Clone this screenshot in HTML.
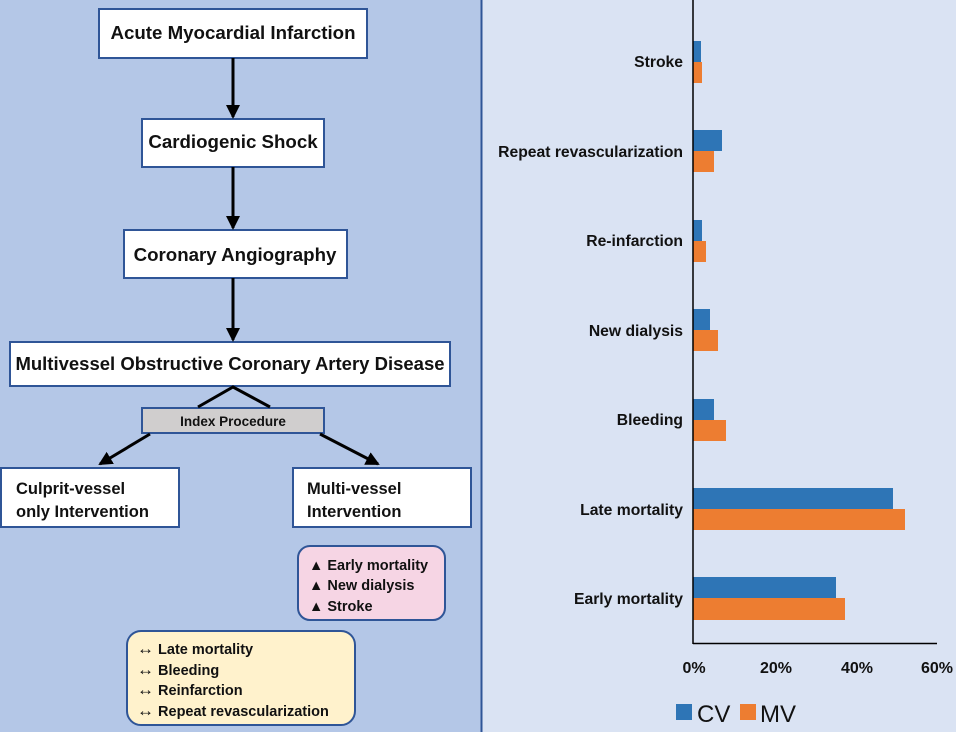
<!DOCTYPE html>
<html><head><meta charset="utf-8"><style>
html,body{margin:0;padding:0;width:956px;height:732px;overflow:hidden}
svg text{font-family:"Liberation Sans",sans-serif;font-weight:bold;fill:#111}
</style></head><body>
<svg width="956" height="732" viewBox="0 0 956 732" xmlns="http://www.w3.org/2000/svg">
<rect x="0" y="0" width="482" height="732" fill="#b4c7e7"/>
<rect x="482" y="0" width="474" height="732" fill="#dae3f3"/>
<line x1="481.5" y1="0" x2="481.5" y2="732" stroke="#2f5597" stroke-width="2"/>
<defs><marker id="a" markerWidth="14" markerHeight="14" refX="12" refY="7" orient="auto" markerUnits="userSpaceOnUse"><path d="M0,0 L14,7 L0,14 z" fill="#000"/></marker></defs>
<g stroke="#2f5597" stroke-width="2" fill="#fff">
<rect x="99" y="9" width="268" height="49"/>
<rect x="142" y="119" width="182" height="48"/>
<rect x="124" y="230" width="223" height="48"/>
<rect x="10" y="342" width="440" height="44"/>
<rect x="142" y="408" width="182" height="25" fill="#d0cece"/>
<rect x="1" y="468" width="178" height="59"/>
<rect x="293" y="468" width="178" height="59"/>
<rect x="298" y="546" width="147" height="74" rx="12" fill="#f6d5e4"/>
<rect x="127" y="631" width="228" height="94" rx="14" fill="#fff2cc"/>
</g>
<g stroke="#000" stroke-width="3" fill="none">
<line x1="233" y1="58" x2="233" y2="117" marker-end="url(#a)"/>
<line x1="233" y1="167" x2="233" y2="228" marker-end="url(#a)"/>
<line x1="233" y1="278" x2="233" y2="340" marker-end="url(#a)"/>
<polyline points="198,407 233,387 270,407"/>
<line x1="150" y1="434" x2="100" y2="464" marker-end="url(#a)"/>
<line x1="320" y1="434" x2="378" y2="464" marker-end="url(#a)"/>
</g>
<text x="233" y="39" font-size="18.7" text-anchor="middle">Acute Myocardial Infarction</text>
<text x="233" y="148" font-size="18.7" text-anchor="middle">Cardiogenic Shock</text>
<text x="235" y="261" font-size="18.7" text-anchor="middle">Coronary Angiography</text>
<text x="230" y="370" font-size="18.5" text-anchor="middle">Multivessel Obstructive Coronary Artery Disease</text>
<text x="233" y="426" font-size="13.5" text-anchor="middle">Index Procedure</text>
<text x="16" y="494" font-size="16.5">Culprit-vessel</text>
<text x="16" y="517" font-size="16.5">only Intervention</text>
<text x="307" y="494" font-size="16.5">Multi-vessel</text>
<text x="307" y="517" font-size="16.5">Intervention</text>
<g font-size="14.5">
<text x="309" y="570">▲ Early mortality</text>
<text x="309" y="590">▲ New dialysis</text>
<text x="309" y="611">▲ Stroke</text>
<text x="137" y="654"><tspan font-size="17">↔</tspan> Late mortality</text>
<text x="137" y="675"><tspan font-size="17">↔</tspan> Bleeding</text>
<text x="137" y="695"><tspan font-size="17">↔</tspan> Reinfarction</text>
<text x="137" y="716"><tspan font-size="17">↔</tspan> Repeat revascularization</text>
</g>
<g fill="#2e75b6">
<rect x="693" y="41" width="8" height="21"/>
<rect x="693" y="130" width="29" height="21"/>
<rect x="693" y="220" width="9" height="21"/>
<rect x="693" y="309" width="17" height="21"/>
<rect x="693" y="399" width="21" height="21"/>
<rect x="693" y="488" width="200" height="21"/>
<rect x="693" y="577" width="143" height="21"/>
<rect x="676" y="704" width="16" height="16"/>
</g>
<g fill="#ed7d31">
<rect x="693" y="62" width="9" height="21"/>
<rect x="693" y="151" width="21" height="21"/>
<rect x="693" y="241" width="13" height="21"/>
<rect x="693" y="330" width="25" height="21"/>
<rect x="693" y="420" width="33" height="21"/>
<rect x="693" y="509" width="212" height="21"/>
<rect x="693" y="598" width="152" height="22"/>
<rect x="740" y="704" width="16" height="16"/>
</g>
<line x1="693" y1="0" x2="693" y2="644" stroke="#000" stroke-width="1.5"/>
<line x1="693" y1="643.5" x2="937" y2="643.5" stroke="#000" stroke-width="1.5"/>
<g font-size="15.7" text-anchor="end">
<text x="683" y="67">Stroke</text>
<text x="683" y="157">Repeat revascularization</text>
<text x="683" y="246">Re-infarction</text>
<text x="683" y="336">New dialysis</text>
<text x="683" y="425">Bleeding</text>
<text x="683" y="515">Late mortality</text>
<text x="683" y="604">Early mortality</text>
</g>
<g font-size="16" text-anchor="middle">
<text x="694" y="673">0%</text>
<text x="776" y="673">20%</text>
<text x="857" y="673">40%</text>
<text x="937" y="673">60%</text>
</g>
<text x="697" y="722" font-size="24" style="font-weight:normal">CV</text>
<text x="760" y="722" font-size="24" style="font-weight:normal">MV</text>
</svg>
</body></html>
